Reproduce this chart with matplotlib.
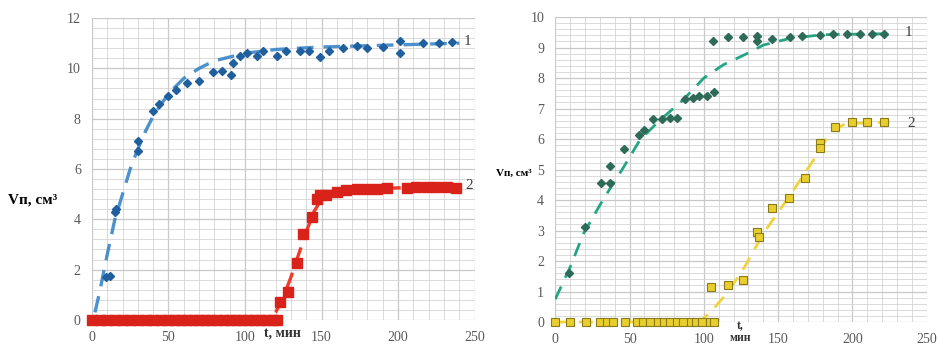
import matplotlib.pyplot as plt
from matplotlib.ticker import MultipleLocator

plt.rcParams["font.family"] = ["Liberation Serif", "DejaVu Serif"]

# left panel, curve 1 (blue diamonds)
t1_left = [9, 12, 15, 16, 30, 30, 40, 44, 50, 55, 62, 70, 79, 85, 91, 92, 97, 101,
           108, 112, 121, 127, 136, 142, 149, 155, 164, 173, 180, 190, 201, 201,
           216, 227, 235]
v1_left = [1.7, 1.75, 4.3, 4.4, 7.1, 6.7, 8.3, 8.6, 8.9, 9.15, 9.4, 9.5, 9.85, 9.9,
           9.75, 10.2, 10.5, 10.6, 10.5, 10.7, 10.5, 10.7, 10.7, 10.7, 10.45, 10.7,
           10.8, 10.9, 10.8, 10.85, 11.1, 10.6, 11.0, 11.0, 11.05]
fit1_left_t = [2, 5, 10, 15, 20, 25, 30, 35, 40, 50, 60, 70, 80, 100, 120, 150, 180,
               210, 240]
fit1_left_v = [0.3, 1.1, 2.6, 4.0, 5.0, 6.0, 6.8, 7.5, 8.1, 9.0, 9.6, 10.0, 10.3,
               10.6, 10.75, 10.85, 10.9, 10.95, 11.0]

# left panel, curve 2 (red squares)
t2_left = [0, 5, 10, 15, 20, 25, 30, 35, 40, 45, 50, 54, 58, 62, 66, 70, 74, 78, 82,
           86, 90, 94, 98, 102, 106, 110, 114, 118, 121, 123, 128, 134, 138, 144,
           147, 149, 153, 160, 166, 173, 180, 186, 193, 206, 212, 219, 225, 232, 238]
v2_left = [0] * 29 + [0.7, 1.1, 2.25, 3.4, 4.1, 4.8, 4.95, 4.97, 5.1, 5.15, 5.2, 5.2,
                      5.2, 5.25, 5.25, 5.3, 5.3, 5.3, 5.3, 5.25]
fit2_left_t = [0, 115, 120, 125, 130, 135, 140, 145, 150, 160, 180, 200, 240]
fit2_left_v = [0, 0, 0.3, 0.9, 1.7, 2.6, 3.5, 4.3, 4.8, 5.05, 5.2, 5.25, 5.3]

# right panel, curve 1 (green)
t1_right = [9, 20, 31, 37, 37, 46, 56, 60, 66, 72, 77, 82, 87, 93, 97, 102, 107, 106,
            116, 126, 136, 136, 146, 158, 166, 178, 187, 196, 205, 213, 221]
v1_right = [1.6, 3.1, 4.57, 4.55, 5.1, 5.67, 6.13, 6.3, 6.65, 6.67, 6.68, 6.7, 7.3,
            7.35, 7.4, 7.4, 7.55, 9.2, 9.35, 9.35, 9.38, 9.2, 9.28, 9.35, 9.38, 9.42,
            9.45, 9.45, 9.45, 9.45, 9.45]
fit1_right_t = [0, 10, 19, 32, 45, 57, 70, 86, 100, 113, 129, 140, 158, 180, 220]
fit1_right_v = [0.75, 1.8, 2.9, 4.0, 5.0, 5.97, 6.6, 7.28, 8.0, 8.43, 8.8, 9.08, 9.3,
                9.42, 9.45]

# right panel, curve 2 (yellow squares)
t2_right = [0, 10, 21, 30, 35, 39, 47, 55, 59, 64, 69, 73, 77, 82, 86, 91, 95, 99,
            104, 107, 105, 116, 126, 136, 137, 146, 157, 168, 178, 178, 188, 200, 210,
            221]
v2_right = [0] * 20 + [1.15, 1.2, 1.38, 2.95, 2.78, 3.73, 4.06, 4.72, 5.87, 5.7, 6.4,
                       6.56, 6.56, 6.56]
fit2_right_t = [0, 97, 105, 113, 125, 140, 160, 175, 185, 195, 225]
fit2_right_v = [0, 0, 0.35, 0.8, 1.6, 2.9, 4.3, 5.4, 6.2, 6.5, 6.56]

GRID = "#d4d4d4"
TICK = "#595959"


def style_axis(ax, ymax, ymajor, yminor):
    ax.set_xlim(0, 250)
    ax.set_ylim(0, ymax)
    ax.xaxis.set_major_locator(MultipleLocator(50))
    ax.xaxis.set_minor_locator(MultipleLocator(10))
    ax.yaxis.set_major_locator(MultipleLocator(ymajor))
    ax.yaxis.set_minor_locator(MultipleLocator(yminor))
    ax.grid(which="major", color="#c8c8c8", linewidth=0.9)
    ax.grid(which="minor", color=GRID, linewidth=0.6)
    ax.set_axisbelow(True)
    for s in ax.spines.values():
        s.set_visible(False)
    ax.tick_params(which="both", length=0, labelsize=10, labelcolor=TICK, pad=8)


fig = plt.figure(figsize=(9.38, 3.47), dpi=100)

# left panel
ax1 = fig.add_axes([0.098, 0.078, 0.408, 0.870])
style_axis(ax1, 12, 2, 0.4)
ax1.plot(fit1_left_t, fit1_left_v, color="#3a86c8", lw=2.4, dashes=(5, 3),
         alpha=0.9, zorder=2)
ax1.plot(t1_left, v1_left, "D", color="#1f5f9e", ms=4.5, ls="none", zorder=3,
         clip_on=False)
ax1.plot(fit2_left_t, fit2_left_v, color="#f03a2a", lw=2.4, dashes=(5, 3),
         zorder=2, clip_on=False)
ax1.plot(t2_left, v2_left, "s", color="#d9221a", ms=7, ls="none", zorder=3,
         clip_on=False)
ax1.text(243, 11.05, "1", fontsize=11, color="#404040", va="center")
ax1.text(244, 5.35, "2", fontsize=11, color="#404040", va="center")

# right panel
ax2 = fig.add_axes([0.592, 0.072, 0.396, 0.879])
style_axis(ax2, 10, 1, 0.2)
ax2.plot(fit1_right_t, fit1_right_v, color="#22a683", lw=2.0, dashes=(5, 3.5),
         zorder=2)
ax2.plot(t1_right, v1_right, "D", color="#2d6b58", ms=4, ls="none", zorder=3,
         clip_on=False)
ax2.plot(fit2_right_t, fit2_right_v, color="#f2d23c", lw=2.0, dashes=(5, 3.5),
         zorder=2, clip_on=False)
ax2.plot(t2_right, v2_right, "s", color="#e9cf2e", mec="#8a7a1a", mew=0.8, ms=6,
         ls="none", zorder=3, clip_on=False)
ax2.text(235, 9.48, "1", fontsize=11, color="#404040", va="center")
ax2.text(237, 6.5, "2", fontsize=11, color="#404040", va="center")

# axis titles
fig.text(0.008, 0.424, "Vп, см³", fontsize=11, fontweight="bold", va="center")
fig.text(0.301, 0.040, "t, мин", fontsize=10, fontweight="bold", ha="center",
         va="center", color="#333333")
fig.text(0.529, 0.501, "Vп, см³", fontsize=8, fontweight="bold", va="center")
fig.text(0.789, 0.043, "t,\nмин", fontsize=8.5, fontweight="bold", ha="center",
         va="center", linespacing=1.0, color="#333333")

fig.savefig("out.png", dpi=100)
